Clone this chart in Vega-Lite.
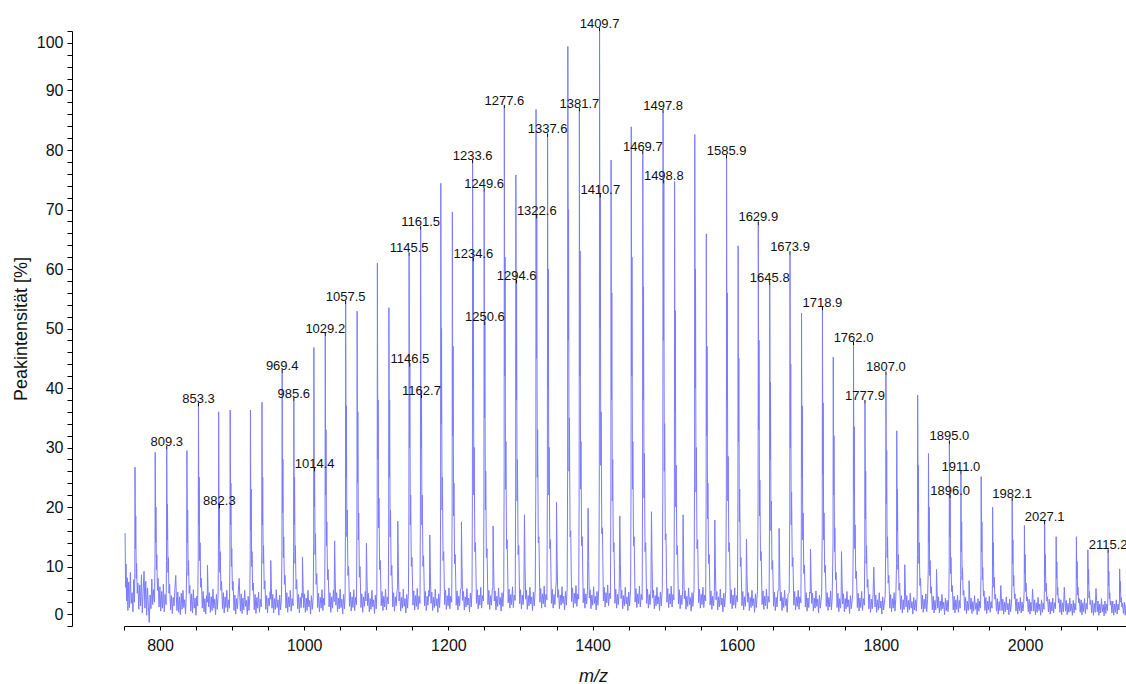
{
"$schema":"https://vega.github.io/schema/vega-lite/v6.json",
"autosize":{"type":"none"},
"padding":{"left":124,"top":31,"right":0,"bottom":58},
"width":1002,"height":595,
"background":"white",
"config":{"view":{"stroke":null},"axis":{"grid":false,"domainColor":"#000","tickColor":"#000","labelColor":"#111","titleColor":"#111","labelFont":"Liberation Sans","titleFont":"Liberation Sans"},"text":{"font":"Liberation Sans"}},
"datasets":{
"spec":[{"x":751.5,"y":15.6},{"x":752.2,"y":6.5},{"x":752.8,"y":10.4},{"x":753.6,"y":4.2},{"x":754.5,"y":8.1},{"x":755.4,"y":2.6},{"x":756.5,"y":7.4},{"x":757.6,"y":3.1},{"x":758.8,"y":9.0},{"x":760.0,"y":3.8},{"x":761.2,"y":5.6},{"x":762.4,"y":2.4},{"x":763.5,"y":7.8},{"x":764.5,"y":4.0},
{"x":765.0,"y":9.0},{"x":765.3,"y":26.7},{"x":765.9,"y":13.0},{"x":766.3,"y":18.5},{"x":767.0,"y":8.0},{"x":767.5,"y":10.5},{"x":768.4,"y":5.5},{"x":769.3,"y":7.2},
{"x":770.5,"y":2.8},{"x":771.8,"y":6.9},{"x":773.0,"y":3.4},{"x":774.2,"y":8.6},{"x":775.4,"y":2.2},{"x":776.6,"y":5.9},{"x":777.8,"y":9.2},{"x":779.0,"y":3.0},{"x":780.2,"y":7.5},{"x":781.4,"y":1.8},{"x":782.6,"y":6.4},{"x":783.8,"y":3.3},{"x":785.0,"y":0.6},{"x":786.2,"y":5.2},{"x":787.4,"y":2.9},{"x":788.6,"y":7.9},{"x":789.8,"y":3.6},{"x":791.0,"y":6.1},{"x":792.3,"y":4.0},
{"x":793.0,"y":10.5},{"x":793.3,"y":29.2},{"x":793.9,"y":14.0},{"x":794.3,"y":20.0},{"x":795.0,"y":9.5},{"x":795.5,"y":12.0},{"x":796.4,"y":6.0},{"x":797.3,"y":8.0},
{"x":798.6,"y":3.2},{"x":799.8,"y":6.6},{"x":801.0,"y":2.5},{"x":802.2,"y":5.8},{"x":803.4,"y":3.0},{"x":804.6,"y":7.0},{"x":805.8,"y":2.4},{"x":807.0,"y":5.3},{"x":808.4,"y":3.6},
{"x":809.0,"y":11.0},{"x":809.3,"y":29.7},{"x":809.9,"y":14.5},{"x":810.3,"y":20.5},{"x":811.0,"y":9.0},{"x":811.5,"y":11.5},{"x":812.4,"y":5.5},{"x":813.3,"y":7.0},
{"x":814.6,"y":2.7},{"x":815.8,"y":5.1},{"x":817.0,"y":2.1},{"x":818.2,"y":4.8},{"x":819.4,"y":3.4},{"x":820.6,"y":6.3},{"x":821.8,"y":8.5},{"x":822.6,"y":5.0},{"x":823.5,"y":2.6},{"x":824.6,"y":5.7},{"x":825.8,"y":2.3},{"x":827.0,"y":4.9},{"x":828.2,"y":1.9},{"x":829.4,"y":5.5},{"x":830.6,"y":2.8},{"x":831.8,"y":6.0},{"x":833.0,"y":3.1},{"x":834.2,"y":4.4},{"x":835.4,"y":2.0},{"x":836.4,"y":5.2},
{"x":837.0,"y":10.0},{"x":837.3,"y":29.5},{"x":837.9,"y":14.0},{"x":838.3,"y":19.5},{"x":839.0,"y":8.5},{"x":839.5,"y":11.0},{"x":840.4,"y":5.5},{"x":841.3,"y":6.8},
{"x":842.6,"y":2.5},{"x":843.8,"y":5.4},{"x":845.0,"y":2.2},{"x":846.2,"y":6.1},{"x":847.4,"y":3.0},{"x":848.6,"y":4.7},{"x":849.8,"y":1.8},{"x":851.0,"y":5.0},{"x":852.2,"y":3.4},
{"x":853.0,"y":12.0},{"x":853.3,"y":36.9},{"x":853.9,"y":17.0},{"x":854.3,"y":25.0},{"x":855.0,"y":11.0},{"x":855.5,"y":14.0},{"x":856.4,"y":6.5},{"x":857.3,"y":8.0},
{"x":858.6,"y":3.0},{"x":859.8,"y":5.8},{"x":861.0,"y":2.4},{"x":862.2,"y":4.6},{"x":863.4,"y":2.0},{"x":864.6,"y":5.1},{"x":865.5,"y":4.0},{"x":865.8,"y":10.2},{"x":866.6,"y":6.0},{"x":867.5,"y":3.2},{"x":868.6,"y":5.6},{"x":869.8,"y":2.3},{"x":871.0,"y":4.9},{"x":872.2,"y":2.6},{"x":873.4,"y":6.2},{"x":874.6,"y":3.0},{"x":875.8,"y":4.5},{"x":877.0,"y":1.9},{"x":878.2,"y":5.3},{"x":879.4,"y":2.8},{"x":880.4,"y":4.8},
{"x":881.0,"y":11.5},{"x":881.3,"y":36.0},{"x":881.9,"y":15.0},{"x":882.3,"y":19.8},{"x":883.0,"y":9.0},{"x":883.5,"y":12.5},{"x":884.4,"y":6.0},{"x":885.3,"y":7.5},
{"x":886.6,"y":2.9},{"x":887.8,"y":5.6},{"x":889.0,"y":2.2},{"x":890.2,"y":4.9},{"x":891.4,"y":3.1},{"x":892.6,"y":6.0},{"x":893.8,"y":2.4},{"x":895.0,"y":4.4},{"x":896.3,"y":3.0},
{"x":897.0,"y":12.0},{"x":897.3,"y":36.3},{"x":897.9,"y":17.0},{"x":898.3,"y":24.0},{"x":899.0,"y":10.0},{"x":899.5,"y":13.0},{"x":900.4,"y":6.0},{"x":901.3,"y":7.5},
{"x":902.6,"y":2.6},{"x":903.8,"y":5.2},{"x":905.0,"y":2.0},{"x":906.2,"y":4.6},{"x":907.4,"y":2.9},{"x":908.6,"y":5.9},{"x":909.8,"y":8.0},{"x":910.6,"y":5.0},{"x":911.5,"y":2.5},{"x":912.6,"y":5.4},{"x":913.8,"y":2.1},{"x":915.0,"y":4.7},{"x":916.2,"y":2.7},{"x":917.4,"y":6.0},{"x":918.6,"y":3.3},{"x":919.8,"y":4.3},{"x":921.0,"y":1.9},{"x":922.2,"y":5.0},{"x":923.4,"y":2.6},{"x":924.5,"y":4.9},
{"x":925.1,"y":12.0},{"x":925.4,"y":36.3},{"x":926.0,"y":16.0},{"x":926.4,"y":23.0},{"x":927.1,"y":10.0},{"x":927.6,"y":12.5},{"x":928.5,"y":6.0},{"x":929.4,"y":7.2},
{"x":930.7,"y":2.7},{"x":931.9,"y":5.3},{"x":933.1,"y":2.1},{"x":934.3,"y":4.8},{"x":935.5,"y":3.0},{"x":936.7,"y":5.7},{"x":937.9,"y":2.3},{"x":939.1,"y":4.5},{"x":940.4,"y":3.2},
{"x":941.1,"y":12.5},{"x":941.4,"y":37.6},{"x":942.0,"y":17.0},{"x":942.4,"y":25.0},{"x":943.1,"y":10.5},{"x":943.6,"y":13.5},{"x":944.5,"y":6.2},{"x":945.4,"y":7.6},
{"x":946.7,"y":2.8},{"x":947.9,"y":5.1},{"x":949.1,"y":2.2},{"x":950.3,"y":4.7},{"x":951.5,"y":3.4},{"x":952.7,"y":5.8},{"x":953.3,"y":4.5},{"x":953.6,"y":11.0},{"x":954.4,"y":6.5},{"x":955.3,"y":3.0},{"x":956.4,"y":5.3},{"x":957.6,"y":2.2},{"x":958.8,"y":4.6},{"x":960.0,"y":2.8},{"x":961.2,"y":6.1},{"x":962.4,"y":3.1},{"x":963.6,"y":4.4},{"x":964.8,"y":1.8},{"x":966.0,"y":5.2},{"x":967.2,"y":2.7},{"x":968.5,"y":4.8},
{"x":969.1,"y":13.0},{"x":969.4,"y":42.5},{"x":970.0,"y":19.0},{"x":970.4,"y":28.0},{"x":971.1,"y":11.5},{"x":971.6,"y":15.0},{"x":972.5,"y":7.0},{"x":973.4,"y":8.5},
{"x":974.7,"y":3.0},{"x":975.9,"y":5.6},{"x":977.1,"y":2.3},{"x":978.3,"y":4.9},{"x":979.5,"y":3.2},{"x":980.7,"y":6.0},{"x":981.9,"y":2.5},{"x":983.1,"y":4.6},{"x":984.5,"y":3.4},
{"x":985.3,"y":12.5},{"x":985.6,"y":37.8},{"x":986.2,"y":17.0},{"x":986.6,"y":25.0},{"x":987.3,"y":10.5},{"x":987.8,"y":13.5},{"x":988.7,"y":6.2},{"x":989.6,"y":7.8},
{"x":990.9,"y":2.9},{"x":992.1,"y":5.3},{"x":993.3,"y":2.2},{"x":994.5,"y":4.8},{"x":995.7,"y":3.1},{"x":996.8,"y":5.5},{"x":997.3,"y":4.8},{"x":997.6,"y":11.6},{"x":998.4,"y":7.0},{"x":999.3,"y":3.1},{"x":1000.4,"y":5.4},{"x":1001.6,"y":2.3},{"x":1002.8,"y":4.7},{"x":1004.0,"y":2.6},{"x":1005.2,"y":6.0},{"x":1006.4,"y":3.2},{"x":1007.6,"y":4.3},{"x":1008.8,"y":2.0},{"x":1010.0,"y":5.1},{"x":1011.2,"y":2.8},{"x":1012.5,"y":5.0},
{"x":1013.1,"y":14.0},{"x":1013.4,"y":46.8},{"x":1014.0,"y":20.0},{"x":1014.4,"y":26.0},{"x":1015.1,"y":12.0},{"x":1015.6,"y":15.5},{"x":1016.5,"y":7.0},{"x":1017.4,"y":8.8},
{"x":1018.7,"y":3.1},{"x":1019.9,"y":5.5},{"x":1021.1,"y":2.4},{"x":1022.3,"y":4.8},{"x":1023.5,"y":3.0},{"x":1024.7,"y":6.1},{"x":1025.9,"y":2.6},{"x":1027.1,"y":4.7},{"x":1028.3,"y":3.5},
{"x":1028.9,"y":15.0},{"x":1029.2,"y":48.7},{"x":1029.8,"y":22.0},{"x":1030.2,"y":33.0},{"x":1030.9,"y":13.5},{"x":1031.4,"y":17.5},{"x":1032.3,"y":7.8},{"x":1033.2,"y":9.5},
{"x":1034.5,"y":3.2},{"x":1035.7,"y":5.6},{"x":1036.9,"y":2.3},{"x":1038.1,"y":4.9},{"x":1039.3,"y":3.0},{"x":1040.5,"y":6.0},{"x":1041.5,"y":4.1},{"x":1042.2,"y":14.3},{"x":1043.0,"y":8.0},{"x":1043.9,"y":3.5},{"x":1045.0,"y":5.6},{"x":1046.2,"y":2.4},{"x":1047.4,"y":4.7},{"x":1048.6,"y":2.9},{"x":1049.8,"y":6.2},{"x":1051.0,"y":3.1},{"x":1052.2,"y":4.5},{"x":1053.4,"y":2.0},{"x":1054.6,"y":5.3},{"x":1055.8,"y":2.9},{"x":1056.7,"y":5.2},
{"x":1057.2,"y":16.0},{"x":1057.5,"y":54.1},{"x":1058.1,"y":25.0},{"x":1058.5,"y":37.0},{"x":1059.2,"y":15.0},{"x":1059.7,"y":19.5},{"x":1060.6,"y":8.5},{"x":1061.5,"y":10.0},
{"x":1062.8,"y":3.3},{"x":1064.0,"y":5.7},{"x":1065.2,"y":2.5},{"x":1066.4,"y":4.9},{"x":1067.6,"y":3.1},{"x":1068.8,"y":6.1},{"x":1070.0,"y":2.6},{"x":1071.2,"y":4.8},{"x":1072.5,"y":3.6},
{"x":1073.1,"y":16.0},{"x":1073.4,"y":52.9},{"x":1074.0,"y":24.0},{"x":1074.4,"y":36.0},{"x":1075.1,"y":14.5},{"x":1075.6,"y":19.0},{"x":1076.5,"y":8.2},{"x":1077.4,"y":10.0},
{"x":1078.7,"y":3.1},{"x":1079.9,"y":5.4},{"x":1081.1,"y":2.3},{"x":1082.3,"y":4.9},{"x":1083.5,"y":3.3},{"x":1084.7,"y":5.8},{"x":1085.7,"y":4.2},{"x":1086.3,"y":13.9},{"x":1087.1,"y":8.0},{"x":1088.0,"y":3.4},{"x":1089.1,"y":5.5},{"x":1090.3,"y":2.4},{"x":1091.5,"y":4.6},{"x":1092.7,"y":2.8},{"x":1093.9,"y":6.0},{"x":1095.1,"y":3.2},{"x":1096.3,"y":4.4},{"x":1097.5,"y":2.1},{"x":1098.7,"y":5.2},{"x":1099.9,"y":2.9},{"x":1100.7,"y":5.4},
{"x":1101.2,"y":18.0},{"x":1101.5,"y":61.0},{"x":1102.1,"y":28.0},{"x":1102.5,"y":38.0},{"x":1103.2,"y":16.5},{"x":1103.7,"y":21.5},{"x":1104.6,"y":9.5},{"x":1105.5,"y":11.0},
{"x":1106.8,"y":3.4},{"x":1108.0,"y":5.8},{"x":1109.2,"y":2.6},{"x":1110.4,"y":5.0},{"x":1111.6,"y":3.2},{"x":1112.8,"y":6.2},{"x":1114.0,"y":2.7},{"x":1115.2,"y":4.9},{"x":1116.6,"y":3.7},
{"x":1117.2,"y":16.5},{"x":1117.5,"y":53.5},{"x":1118.1,"y":25.0},{"x":1118.5,"y":38.0},{"x":1119.2,"y":15.0},{"x":1119.7,"y":19.5},{"x":1120.6,"y":8.5},{"x":1121.5,"y":10.2},
{"x":1122.8,"y":3.2},{"x":1124.0,"y":5.6},{"x":1125.2,"y":2.5},{"x":1126.4,"y":4.9},{"x":1127.6,"y":3.4},{"x":1128.8,"y":6.0},{"x":1129.5,"y":6.5},{"x":1129.8,"y":17.6},{"x":1130.6,"y":10.0},{"x":1131.5,"y":4.2},{"x":1132.6,"y":5.7},{"x":1133.8,"y":2.5},{"x":1135.0,"y":4.8},{"x":1136.2,"y":3.0},{"x":1137.4,"y":6.2},{"x":1138.6,"y":3.3},{"x":1139.8,"y":4.6},{"x":1141.0,"y":2.2},{"x":1142.2,"y":5.3},{"x":1143.4,"y":3.0},{"x":1144.6,"y":5.6},
{"x":1145.2,"y":18.5},{"x":1145.5,"y":62.2},{"x":1146.1,"y":30.0},{"x":1146.5,"y":43.6},{"x":1147.2,"y":17.0},{"x":1147.7,"y":22.0},{"x":1148.6,"y":10.0},{"x":1149.5,"y":11.5},
{"x":1150.8,"y":3.5},{"x":1152.0,"y":5.9},{"x":1153.2,"y":2.7},{"x":1154.4,"y":5.1},{"x":1155.6,"y":3.3},{"x":1156.8,"y":6.3},{"x":1158.0,"y":2.8},{"x":1159.2,"y":5.0},{"x":1160.6,"y":3.8},
{"x":1161.2,"y":19.5},{"x":1161.5,"y":66.6},{"x":1162.1,"y":30.0},{"x":1162.7,"y":38.3},{"x":1163.3,"y":17.0},{"x":1163.8,"y":22.0},{"x":1164.7,"y":10.0},{"x":1165.6,"y":11.8},
{"x":1166.9,"y":3.4},{"x":1168.1,"y":5.8},{"x":1169.3,"y":2.6},{"x":1170.5,"y":5.0},{"x":1171.7,"y":3.5},{"x":1172.9,"y":6.0},{"x":1173.8,"y":5.0},{"x":1174.2,"y":15.3},{"x":1175.0,"y":9.0},{"x":1175.9,"y":3.8},{"x":1177.0,"y":5.7},{"x":1178.2,"y":2.6},{"x":1179.4,"y":4.8},{"x":1180.6,"y":3.1},{"x":1181.8,"y":6.2},{"x":1183.0,"y":3.4},{"x":1184.2,"y":4.6},{"x":1185.4,"y":2.3},{"x":1186.6,"y":5.4},{"x":1187.8,"y":3.1},{"x":1188.7,"y":5.8},
{"x":1189.2,"y":21.0},{"x":1189.5,"y":74.4},{"x":1190.1,"y":34.0},{"x":1190.5,"y":50.0},{"x":1191.2,"y":19.5},{"x":1191.7,"y":25.0},{"x":1192.6,"y":11.0},{"x":1193.5,"y":12.5},
{"x":1194.8,"y":3.6},{"x":1196.0,"y":6.0},{"x":1197.2,"y":2.8},{"x":1198.4,"y":5.1},{"x":1199.6,"y":3.4},{"x":1200.8,"y":6.4},{"x":1202.0,"y":2.9},{"x":1203.2,"y":5.0},{"x":1204.6,"y":4.0},
{"x":1205.2,"y":20.0},{"x":1205.5,"y":69.6},{"x":1206.1,"y":32.0},{"x":1206.5,"y":47.0},{"x":1207.2,"y":18.5},{"x":1207.7,"y":24.0},{"x":1208.6,"y":10.5},{"x":1209.5,"y":12.0},
{"x":1210.8,"y":3.5},{"x":1212.0,"y":5.9},{"x":1213.2,"y":2.7},{"x":1214.4,"y":5.0},{"x":1215.6,"y":3.4},{"x":1216.8,"y":6.1},{"x":1217.8,"y":6.5},{"x":1218.1,"y":17.5},{"x":1218.9,"y":10.0},{"x":1219.8,"y":4.3},{"x":1220.9,"y":5.8},{"x":1222.1,"y":2.7},{"x":1223.3,"y":4.9},{"x":1224.5,"y":3.2},{"x":1225.7,"y":6.3},{"x":1226.9,"y":3.5},{"x":1228.1,"y":4.7},{"x":1229.3,"y":2.4},{"x":1230.5,"y":5.5},{"x":1231.7,"y":3.2},{"x":1232.8,"y":6.0},
{"x":1233.3,"y":22.0},{"x":1233.6,"y":77.8},{"x":1234.2,"y":40.0},{"x":1234.6,"y":61.3},{"x":1235.3,"y":22.0},{"x":1235.8,"y":30.0},{"x":1236.7,"y":12.5},{"x":1237.6,"y":14.0},
{"x":1238.9,"y":3.8},{"x":1240.1,"y":6.1},{"x":1241.3,"y":2.9},{"x":1242.5,"y":5.2},{"x":1243.7,"y":3.5},{"x":1244.9,"y":6.5},{"x":1246.1,"y":3.0},{"x":1247.3,"y":5.1},{"x":1248.7,"y":4.2},
{"x":1249.3,"y":21.0},{"x":1249.6,"y":73.0},{"x":1250.2,"y":35.0},{"x":1250.6,"y":50.6},{"x":1251.3,"y":19.5},{"x":1251.8,"y":26.0},{"x":1252.7,"y":11.5},{"x":1253.6,"y":13.0},
{"x":1254.9,"y":3.6},{"x":1256.1,"y":6.0},{"x":1257.3,"y":2.8},{"x":1258.5,"y":5.1},{"x":1259.7,"y":3.5},{"x":1260.9,"y":6.2},{"x":1261.7,"y":6.5},{"x":1262.0,"y":16.8},{"x":1262.8,"y":9.5},{"x":1263.7,"y":4.2},{"x":1264.8,"y":5.9},{"x":1266.0,"y":2.7},{"x":1267.2,"y":5.0},{"x":1268.4,"y":3.3},{"x":1269.6,"y":6.4},{"x":1270.8,"y":3.6},{"x":1272.0,"y":4.8},{"x":1273.2,"y":2.5},{"x":1274.4,"y":5.6},{"x":1275.6,"y":3.3},{"x":1276.8,"y":6.1},
{"x":1277.3,"y":24.0},{"x":1277.6,"y":87.0},{"x":1278.2,"y":42.0},{"x":1278.6,"y":62.0},{"x":1279.3,"y":23.0},{"x":1279.8,"y":31.0},{"x":1280.7,"y":13.0},{"x":1281.6,"y":14.5},
{"x":1282.9,"y":3.9},{"x":1284.1,"y":6.2},{"x":1285.3,"y":3.0},{"x":1286.5,"y":5.3},{"x":1287.7,"y":3.6},{"x":1288.9,"y":6.6},{"x":1290.1,"y":3.1},{"x":1291.3,"y":5.2},{"x":1292.7,"y":4.3},
{"x":1293.3,"y":22.0},{"x":1293.6,"y":75.8},{"x":1294.2,"y":38.0},{"x":1294.6,"y":57.6},{"x":1295.3,"y":21.0},{"x":1295.8,"y":28.0},{"x":1296.7,"y":12.0},{"x":1297.6,"y":13.5},
{"x":1298.9,"y":3.7},{"x":1300.1,"y":6.1},{"x":1301.3,"y":2.9},{"x":1302.5,"y":5.2},{"x":1303.7,"y":3.6},{"x":1304.8,"y":6.0},{"x":1305.5,"y":18.7},{"x":1306.3,"y":10.5},{"x":1307.2,"y":4.5},{"x":1308.3,"y":6.0},{"x":1309.5,"y":2.8},{"x":1310.7,"y":5.1},{"x":1311.9,"y":3.4},{"x":1313.1,"y":6.5},{"x":1314.3,"y":3.7},{"x":1315.5,"y":4.9},{"x":1316.7,"y":2.6},{"x":1317.9,"y":5.7},{"x":1319.1,"y":3.4},{"x":1320.5,"y":6.2},
{"x":1321.3,"y":24.0},{"x":1321.6,"y":86.8},{"x":1322.2,"y":45.0},{"x":1322.6,"y":68.5},{"x":1323.3,"y":25.0},{"x":1323.8,"y":33.0},{"x":1324.7,"y":14.0},{"x":1325.6,"y":15.0},
{"x":1326.9,"y":4.0},{"x":1328.1,"y":6.3},{"x":1329.3,"y":3.0},{"x":1330.5,"y":5.4},{"x":1331.7,"y":3.7},{"x":1332.9,"y":6.7},{"x":1334.1,"y":3.2},{"x":1335.3,"y":5.3},{"x":1336.7,"y":4.4},
{"x":1337.3,"y":23.0},{"x":1337.6,"y":82.2},{"x":1338.2,"y":40.0},{"x":1338.6,"y":60.0},{"x":1339.3,"y":22.0},{"x":1339.8,"y":30.0},{"x":1340.7,"y":13.0},{"x":1341.6,"y":14.5},
{"x":1342.9,"y":3.8},{"x":1344.1,"y":6.2},{"x":1345.3,"y":3.0},{"x":1346.5,"y":5.3},{"x":1347.7,"y":3.6},{"x":1348.9,"y":6.4},{"x":1349.7,"y":7.5},{"x":1350.0,"y":20.8},{"x":1350.8,"y":11.5},{"x":1351.7,"y":4.8},{"x":1352.8,"y":6.1},{"x":1354.0,"y":2.9},{"x":1355.2,"y":5.2},{"x":1356.4,"y":3.5},{"x":1357.6,"y":6.6},{"x":1358.8,"y":3.8},{"x":1360.0,"y":5.0},{"x":1361.2,"y":2.7},{"x":1362.4,"y":5.8},{"x":1363.6,"y":3.5},{"x":1364.8,"y":6.3},
{"x":1365.4,"y":26.0},{"x":1365.7,"y":97.4},{"x":1366.3,"y":48.0},{"x":1366.7,"y":70.0},{"x":1367.4,"y":26.0},{"x":1367.9,"y":35.0},{"x":1368.8,"y":15.0},{"x":1369.7,"y":16.0},
{"x":1371.0,"y":4.1},{"x":1372.2,"y":6.4},{"x":1373.4,"y":3.1},{"x":1374.6,"y":5.5},{"x":1375.8,"y":3.8},{"x":1377.0,"y":6.8},{"x":1378.2,"y":3.3},{"x":1379.4,"y":5.4},{"x":1380.8,"y":4.5},
{"x":1381.4,"y":24.0},{"x":1381.7,"y":86.5},{"x":1382.3,"y":42.0},{"x":1382.7,"y":63.0},{"x":1383.4,"y":23.0},{"x":1383.9,"y":31.0},{"x":1384.8,"y":13.5},{"x":1385.7,"y":15.0},
{"x":1387.0,"y":3.9},{"x":1388.2,"y":6.3},{"x":1389.4,"y":3.0},{"x":1390.6,"y":5.4},{"x":1391.8,"y":3.7},{"x":1393.0,"y":6.0},{"x":1393.8,"y":19.8},{"x":1394.6,"y":11.0},{"x":1395.5,"y":4.7},{"x":1396.6,"y":6.1},{"x":1397.8,"y":2.9},{"x":1399.0,"y":5.2},{"x":1400.2,"y":3.5},{"x":1401.4,"y":6.6},{"x":1402.6,"y":3.8},{"x":1403.8,"y":5.0},{"x":1405.0,"y":2.7},{"x":1406.2,"y":5.8},{"x":1407.4,"y":3.5},{"x":1408.8,"y":6.4},
{"x":1409.4,"y":27.0},{"x":1409.7,"y":100.0},{"x":1410.3,"y":50.0},{"x":1410.7,"y":72.0},{"x":1411.4,"y":27.0},{"x":1411.9,"y":36.0},{"x":1412.8,"y":15.5},{"x":1413.7,"y":16.5},
{"x":1415.0,"y":4.2},{"x":1416.2,"y":6.5},{"x":1417.4,"y":3.2},{"x":1418.6,"y":5.6},{"x":1419.8,"y":3.9},{"x":1421.0,"y":6.9},{"x":1422.2,"y":3.4},{"x":1423.4,"y":5.5},{"x":1424.8,"y":4.6},
{"x":1425.4,"y":23.0},{"x":1425.7,"y":78.3},{"x":1426.3,"y":38.0},{"x":1426.7,"y":56.0},{"x":1427.4,"y":21.0},{"x":1427.9,"y":28.0},{"x":1428.8,"y":12.5},{"x":1429.7,"y":14.0},
{"x":1431.0,"y":3.8},{"x":1432.2,"y":6.2},{"x":1433.4,"y":3.0},{"x":1434.6,"y":5.3},{"x":1435.8,"y":3.6},{"x":1437.0,"y":6.3},{"x":1437.8,"y":18.5},{"x":1438.6,"y":10.5},{"x":1439.5,"y":4.6},{"x":1440.6,"y":6.0},{"x":1441.8,"y":2.9},{"x":1443.0,"y":5.1},{"x":1444.2,"y":3.4},{"x":1445.4,"y":6.5},{"x":1446.6,"y":3.7},{"x":1447.8,"y":4.9},{"x":1449.0,"y":2.6},{"x":1450.2,"y":5.7},{"x":1451.4,"y":3.4},{"x":1452.8,"y":6.3},
{"x":1453.4,"y":24.0},{"x":1453.7,"y":83.9},{"x":1454.3,"y":42.0},{"x":1454.7,"y":62.0},{"x":1455.4,"y":23.0},{"x":1455.9,"y":31.0},{"x":1456.8,"y":13.5},{"x":1457.7,"y":15.0},
{"x":1459.0,"y":4.0},{"x":1460.2,"y":6.3},{"x":1461.4,"y":3.1},{"x":1462.6,"y":5.4},{"x":1463.8,"y":3.7},{"x":1465.0,"y":6.7},{"x":1466.2,"y":3.2},{"x":1467.4,"y":5.3},{"x":1468.8,"y":4.4},
{"x":1469.4,"y":23.0},{"x":1469.7,"y":79.3},{"x":1470.3,"y":38.0},{"x":1470.7,"y":57.0},{"x":1471.4,"y":21.5},{"x":1471.9,"y":29.0},{"x":1472.8,"y":12.5},{"x":1473.7,"y":14.0},
{"x":1475.0,"y":3.8},{"x":1476.2,"y":6.2},{"x":1477.4,"y":3.0},{"x":1478.6,"y":5.3},{"x":1479.8,"y":3.6},{"x":1481.0,"y":6.2},{"x":1481.7,"y":19.2},{"x":1482.5,"y":11.0},{"x":1483.4,"y":4.7},{"x":1484.5,"y":6.0},{"x":1485.7,"y":2.9},{"x":1486.9,"y":5.1},{"x":1488.1,"y":3.4},{"x":1489.3,"y":6.5},{"x":1490.5,"y":3.7},{"x":1491.7,"y":4.9},{"x":1492.9,"y":2.6},{"x":1494.1,"y":5.7},{"x":1495.3,"y":3.4},{"x":1496.8,"y":6.3},
{"x":1497.5,"y":25.0},{"x":1497.8,"y":86.2},{"x":1498.4,"y":48.0},{"x":1498.8,"y":74.4},{"x":1499.5,"y":26.0},{"x":1500.0,"y":34.0},{"x":1500.9,"y":14.5},{"x":1501.8,"y":15.5},
{"x":1503.1,"y":4.0},{"x":1504.3,"y":6.3},{"x":1505.5,"y":3.1},{"x":1506.7,"y":5.4},{"x":1507.9,"y":3.7},{"x":1509.1,"y":6.7},{"x":1510.3,"y":3.2},{"x":1511.5,"y":5.3},{"x":1512.9,"y":4.4},
{"x":1513.5,"y":22.0},{"x":1513.8,"y":74.7},{"x":1514.4,"y":36.0},{"x":1514.8,"y":53.0},{"x":1515.5,"y":20.0},{"x":1516.0,"y":27.0},{"x":1516.9,"y":12.0},{"x":1517.8,"y":13.5},
{"x":1519.1,"y":3.7},{"x":1520.3,"y":6.1},{"x":1521.5,"y":2.9},{"x":1522.7,"y":5.2},{"x":1523.9,"y":3.6},{"x":1525.0,"y":6.0},{"x":1525.6,"y":18.7},{"x":1526.4,"y":10.5},{"x":1527.3,"y":4.6},{"x":1528.4,"y":5.9},{"x":1529.6,"y":2.8},{"x":1530.8,"y":5.0},{"x":1532.0,"y":3.3},{"x":1533.2,"y":6.4},{"x":1534.4,"y":3.6},{"x":1535.6,"y":4.8},{"x":1536.8,"y":2.5},{"x":1538.0,"y":5.6},{"x":1539.2,"y":3.3},{"x":1540.8,"y":6.2},
{"x":1541.5,"y":24.0},{"x":1541.8,"y":82.6},{"x":1542.4,"y":40.0},{"x":1542.8,"y":60.0},{"x":1543.5,"y":22.5},{"x":1544.0,"y":30.0},{"x":1544.9,"y":13.0},{"x":1545.8,"y":14.5},
{"x":1547.1,"y":3.9},{"x":1548.3,"y":6.2},{"x":1549.5,"y":3.0},{"x":1550.7,"y":5.3},{"x":1551.9,"y":3.6},{"x":1553.1,"y":6.5},{"x":1554.3,"y":3.1},{"x":1555.5,"y":5.2},{"x":1556.9,"y":4.2},
{"x":1557.5,"y":19.5},{"x":1557.8,"y":65.9},{"x":1558.4,"y":32.0},{"x":1558.8,"y":47.0},{"x":1559.5,"y":18.0},{"x":1560.0,"y":24.0},{"x":1560.9,"y":10.5},{"x":1561.8,"y":12.0},
{"x":1563.1,"y":3.5},{"x":1564.3,"y":5.9},{"x":1565.5,"y":2.8},{"x":1566.7,"y":5.0},{"x":1567.9,"y":3.4},{"x":1569.0,"y":5.8},{"x":1569.6,"y":17.8},{"x":1570.4,"y":10.0},{"x":1571.3,"y":4.4},{"x":1572.4,"y":5.8},{"x":1573.6,"y":2.7},{"x":1574.8,"y":4.9},{"x":1576.0,"y":3.2},{"x":1577.2,"y":6.2},{"x":1578.4,"y":3.5},{"x":1579.6,"y":4.7},{"x":1580.8,"y":2.4},{"x":1582.0,"y":5.5},{"x":1583.2,"y":3.2},{"x":1584.8,"y":6.0},
{"x":1585.6,"y":23.0},{"x":1585.9,"y":78.6},{"x":1586.5,"y":38.0},{"x":1586.9,"y":56.0},{"x":1587.6,"y":21.0},{"x":1588.1,"y":28.5},{"x":1589.0,"y":12.5},{"x":1589.9,"y":14.0},
{"x":1591.2,"y":3.8},{"x":1592.4,"y":6.1},{"x":1593.6,"y":2.9},{"x":1594.8,"y":5.2},{"x":1596.0,"y":3.5},{"x":1597.2,"y":6.4},{"x":1598.4,"y":3.0},{"x":1599.6,"y":5.1},{"x":1601.0,"y":4.1},
{"x":1601.6,"y":19.0},{"x":1601.9,"y":63.9},{"x":1602.5,"y":31.0},{"x":1602.9,"y":45.0},{"x":1603.6,"y":17.5},{"x":1604.1,"y":23.0},{"x":1605.0,"y":10.0},{"x":1605.9,"y":11.5},
{"x":1607.2,"y":3.4},{"x":1608.4,"y":5.8},{"x":1609.6,"y":2.7},{"x":1610.8,"y":4.9},{"x":1612.0,"y":3.3},{"x":1612.9,"y":5.5},{"x":1613.5,"y":14.6},{"x":1614.3,"y":8.5},{"x":1615.2,"y":4.0},{"x":1616.3,"y":5.6},{"x":1617.5,"y":2.6},{"x":1618.7,"y":4.8},{"x":1619.9,"y":3.1},{"x":1621.1,"y":6.0},{"x":1622.3,"y":3.4},{"x":1623.5,"y":4.6},{"x":1624.7,"y":2.3},{"x":1625.9,"y":5.4},{"x":1627.1,"y":3.1},{"x":1628.8,"y":5.8},
{"x":1629.6,"y":20.0},{"x":1629.9,"y":67.4},{"x":1630.5,"y":33.0},{"x":1630.9,"y":48.0},{"x":1631.6,"y":18.5},{"x":1632.1,"y":24.5},{"x":1633.0,"y":11.0},{"x":1633.9,"y":12.5},
{"x":1635.2,"y":3.6},{"x":1636.4,"y":5.9},{"x":1637.6,"y":2.8},{"x":1638.8,"y":5.0},{"x":1640.0,"y":3.4},{"x":1641.2,"y":6.2},{"x":1642.4,"y":2.9},{"x":1643.6,"y":5.0},{"x":1644.9,"y":4.0},
{"x":1645.5,"y":17.5},{"x":1645.8,"y":57.3},{"x":1646.4,"y":28.0},{"x":1646.8,"y":41.0},{"x":1647.5,"y":16.0},{"x":1648.0,"y":21.0},{"x":1648.9,"y":9.5},{"x":1649.8,"y":11.0},
{"x":1651.1,"y":3.3},{"x":1652.3,"y":5.7},{"x":1653.5,"y":2.6},{"x":1654.7,"y":4.8},{"x":1655.9,"y":3.2},{"x":1657.1,"y":5.9},{"x":1658.5,"y":6.0},{"x":1658.8,"y":16.4},{"x":1659.6,"y":9.5},{"x":1660.5,"y":4.2},{"x":1661.6,"y":5.7},{"x":1662.8,"y":2.6},{"x":1664.0,"y":4.8},{"x":1665.2,"y":3.1},{"x":1666.4,"y":6.0},{"x":1667.6,"y":3.4},{"x":1668.8,"y":4.6},{"x":1670.0,"y":2.3},{"x":1671.2,"y":5.3},{"x":1672.8,"y":5.6},
{"x":1673.6,"y":18.5},{"x":1673.9,"y":62.4},{"x":1674.5,"y":30.0},{"x":1674.9,"y":44.0},{"x":1675.6,"y":17.0},{"x":1676.1,"y":22.5},{"x":1677.0,"y":10.0},{"x":1677.9,"y":11.5},
{"x":1679.2,"y":3.5},{"x":1680.4,"y":5.8},{"x":1681.6,"y":2.7},{"x":1682.8,"y":4.9},{"x":1684.0,"y":3.3},{"x":1685.2,"y":6.0},{"x":1686.4,"y":2.8},{"x":1687.6,"y":4.9},{"x":1689.0,"y":3.9},
{"x":1689.6,"y":16.0},{"x":1689.9,"y":52.6},{"x":1690.5,"y":25.0},{"x":1690.9,"y":37.0},{"x":1691.6,"y":14.5},{"x":1692.1,"y":19.0},{"x":1693.0,"y":8.8},{"x":1693.9,"y":10.2},
{"x":1695.2,"y":3.2},{"x":1696.4,"y":5.6},{"x":1697.6,"y":2.5},{"x":1698.8,"y":4.7},{"x":1700.0,"y":3.1},{"x":1701.2,"y":5.7},{"x":1702.0,"y":5.5},{"x":1702.3,"y":12.9},{"x":1703.1,"y":7.8},{"x":1704.0,"y":3.8},{"x":1705.1,"y":5.5},{"x":1706.3,"y":2.5},{"x":1707.5,"y":4.7},{"x":1708.7,"y":3.0},{"x":1709.9,"y":5.9},{"x":1711.1,"y":3.3},{"x":1712.3,"y":4.5},{"x":1713.5,"y":2.2},{"x":1714.7,"y":5.2},{"x":1715.9,"y":3.0},{"x":1717.8,"y":5.4},
{"x":1718.6,"y":16.0},{"x":1718.9,"y":53.1},{"x":1719.5,"y":25.5},{"x":1719.9,"y":37.5},{"x":1720.6,"y":14.5},{"x":1721.1,"y":19.0},{"x":1722.0,"y":9.0},{"x":1722.9,"y":10.2},
{"x":1724.2,"y":3.3},{"x":1725.4,"y":5.6},{"x":1726.6,"y":2.6},{"x":1727.8,"y":4.8},{"x":1729.0,"y":3.2},{"x":1730.2,"y":5.9},{"x":1731.4,"y":2.7},{"x":1732.4,"y":4.7},
{"x":1733.6,"y":14.0},{"x":1733.9,"y":45.2},{"x":1734.5,"y":22.0},{"x":1734.9,"y":32.0},{"x":1735.6,"y":12.5},{"x":1736.1,"y":16.5},{"x":1737.0,"y":7.8},{"x":1737.9,"y":9.0},
{"x":1739.2,"y":3.1},{"x":1740.4,"y":5.5},{"x":1741.6,"y":2.4},{"x":1742.8,"y":4.6},{"x":1744.0,"y":3.0},{"x":1744.9,"y":5.2},{"x":1745.3,"y":12.5},{"x":1746.1,"y":7.5},{"x":1747.0,"y":3.7},{"x":1748.1,"y":5.4},{"x":1749.3,"y":2.4},{"x":1750.5,"y":4.6},{"x":1751.7,"y":2.9},{"x":1752.9,"y":5.8},{"x":1754.1,"y":3.2},{"x":1755.3,"y":4.4},{"x":1756.5,"y":2.1},{"x":1757.7,"y":5.1},{"x":1758.9,"y":2.9},{"x":1760.9,"y":5.3},
{"x":1761.7,"y":14.5},{"x":1762.0,"y":47.2},{"x":1762.6,"y":23.0},{"x":1763.0,"y":33.5},{"x":1763.7,"y":13.0},{"x":1764.2,"y":17.0},{"x":1765.1,"y":8.0},{"x":1766.0,"y":9.2},
{"x":1767.3,"y":3.1},{"x":1768.5,"y":5.5},{"x":1769.7,"y":2.5},{"x":1770.9,"y":4.7},{"x":1772.1,"y":3.1},{"x":1773.3,"y":5.8},{"x":1774.5,"y":2.6},{"x":1775.7,"y":4.6},{"x":1777.0,"y":3.5},
{"x":1777.6,"y":12.0},{"x":1777.9,"y":37.4},{"x":1778.5,"y":18.0},{"x":1778.9,"y":26.0},{"x":1779.6,"y":10.5},{"x":1780.1,"y":13.5},{"x":1781.0,"y":6.5},{"x":1781.9,"y":7.8},
{"x":1783.2,"y":2.9},{"x":1784.4,"y":5.3},{"x":1785.6,"y":2.3},{"x":1786.8,"y":4.5},{"x":1788.0,"y":2.9},{"x":1789.2,"y":5.4},{"x":1790.1,"y":9.9},{"x":1790.9,"y":6.2},{"x":1791.8,"y":3.2},{"x":1792.9,"y":5.2},{"x":1794.1,"y":2.3},{"x":1795.3,"y":4.4},{"x":1796.5,"y":2.7},{"x":1797.7,"y":5.6},{"x":1798.9,"y":3.0},{"x":1800.1,"y":4.2},{"x":1801.3,"y":2.0},{"x":1802.5,"y":4.9},{"x":1803.7,"y":2.7},{"x":1805.9,"y":5.0},
{"x":1806.7,"y":13.0},{"x":1807.0,"y":42.2},{"x":1807.6,"y":20.5},{"x":1808.0,"y":29.5},{"x":1808.7,"y":11.5},{"x":1809.2,"y":15.0},{"x":1810.1,"y":7.2},{"x":1811.0,"y":8.5},
{"x":1812.3,"y":3.0},{"x":1813.5,"y":5.3},{"x":1814.7,"y":2.4},{"x":1815.9,"y":4.6},{"x":1817.1,"y":3.0},{"x":1818.3,"y":5.6},{"x":1819.5,"y":2.5},{"x":1820.6,"y":4.5},
{"x":1821.7,"y":10.5},{"x":1822.0,"y":32.8},{"x":1822.6,"y":16.0},{"x":1823.0,"y":23.0},{"x":1823.7,"y":9.5},{"x":1824.2,"y":12.0},{"x":1825.1,"y":6.0},{"x":1826.0,"y":7.2},
{"x":1827.3,"y":2.8},{"x":1828.5,"y":5.1},{"x":1829.7,"y":2.2},{"x":1830.9,"y":4.4},{"x":1832.1,"y":2.8},{"x":1832.7,"y":5.0},{"x":1833.1,"y":10.3},{"x":1833.9,"y":6.3},{"x":1834.8,"y":3.2},{"x":1835.9,"y":5.1},{"x":1837.1,"y":2.3},{"x":1838.3,"y":4.3},{"x":1839.5,"y":2.7},{"x":1840.7,"y":5.5},{"x":1841.9,"y":3.0},{"x":1843.1,"y":4.1},{"x":1844.3,"y":2.0},{"x":1845.5,"y":4.8},{"x":1846.7,"y":2.7},{"x":1847.9,"y":4.4},{"x":1849.1,"y":2.5},{"x":1850.2,"y":4.9},
{"x":1850.7,"y":12.0},{"x":1851.0,"y":38.8},{"x":1851.6,"y":19.0},{"x":1852.0,"y":27.0},{"x":1852.7,"y":10.5},{"x":1853.2,"y":14.0},{"x":1854.1,"y":6.8},{"x":1855.0,"y":8.0},
{"x":1856.3,"y":2.9},{"x":1857.5,"y":5.2},{"x":1858.7,"y":2.3},{"x":1859.9,"y":4.5},{"x":1861.1,"y":2.9},{"x":1862.3,"y":5.4},{"x":1863.5,"y":2.4},{"x":1864.7,"y":4.4},
{"x":1865.7,"y":9.5},{"x":1866.0,"y":29.0},{"x":1866.6,"y":14.0},{"x":1867.0,"y":20.0},{"x":1867.7,"y":8.5},{"x":1868.2,"y":11.0},{"x":1869.1,"y":5.5},{"x":1870.0,"y":6.6},
{"x":1871.3,"y":2.7},{"x":1872.5,"y":5.0},{"x":1873.7,"y":2.2},{"x":1874.9,"y":4.3},{"x":1876.1,"y":2.7},{"x":1876.8,"y":4.5},{"x":1877.1,"y":9.5},{"x":1877.9,"y":6.0},{"x":1878.8,"y":3.0},{"x":1879.9,"y":4.9},{"x":1881.1,"y":2.2},{"x":1882.3,"y":4.2},{"x":1883.5,"y":2.6},{"x":1884.7,"y":5.3},{"x":1885.9,"y":2.9},{"x":1887.1,"y":4.0},{"x":1888.3,"y":1.9},{"x":1889.5,"y":4.7},{"x":1890.7,"y":2.6},{"x":1891.9,"y":4.3},{"x":1893.1,"y":2.4},{"x":1894.2,"y":4.6},
{"x":1894.7,"y":10.0},{"x":1895.0,"y":30.6},{"x":1895.6,"y":15.0},{"x":1896.0,"y":21.5},{"x":1896.7,"y":8.8},{"x":1897.2,"y":11.5},{"x":1898.1,"y":5.8},{"x":1899.0,"y":6.8},
{"x":1900.3,"y":2.7},{"x":1901.5,"y":5.0},{"x":1902.7,"y":2.2},{"x":1903.9,"y":4.4},{"x":1905.1,"y":2.8},{"x":1906.3,"y":5.2},{"x":1907.5,"y":2.3},{"x":1908.7,"y":4.3},{"x":1909.9,"y":3.0},
{"x":1910.7,"y":8.5},{"x":1911.0,"y":25.5},{"x":1911.6,"y":12.5},{"x":1912.0,"y":17.5},{"x":1912.7,"y":7.8},{"x":1913.2,"y":9.8},{"x":1914.1,"y":5.2},{"x":1915.0,"y":6.0},
{"x":1916.3,"y":2.6},{"x":1917.5,"y":4.8},{"x":1918.7,"y":2.1},{"x":1919.9,"y":4.2},{"x":1921.1,"y":2.6},{"x":1922.0,"y":4.0},{"x":1922.3,"y":7.6},{"x":1923.1,"y":5.2},{"x":1924.0,"y":2.8},{"x":1925.1,"y":4.7},{"x":1926.3,"y":2.1},{"x":1927.5,"y":4.1},{"x":1928.7,"y":2.5},{"x":1929.9,"y":5.1},{"x":1931.1,"y":2.8},{"x":1932.3,"y":3.9},{"x":1933.5,"y":1.9},{"x":1934.7,"y":4.6},{"x":1935.9,"y":2.5},{"x":1937.1,"y":4.2},{"x":1938.2,"y":3.0},
{"x":1938.8,"y":8.5},{"x":1939.1,"y":25.1},{"x":1939.7,"y":12.5},{"x":1940.1,"y":17.5},{"x":1940.8,"y":7.8},{"x":1941.3,"y":9.8},{"x":1942.2,"y":5.0},{"x":1943.1,"y":5.9},
{"x":1944.4,"y":2.6},{"x":1945.6,"y":4.8},{"x":1946.8,"y":2.1},{"x":1948.0,"y":4.2},{"x":1949.2,"y":2.7},{"x":1950.4,"y":5.0},{"x":1951.6,"y":2.3},{"x":1952.8,"y":4.1},{"x":1954.1,"y":3.0},
{"x":1954.7,"y":7.0},{"x":1955.0,"y":20.0},{"x":1955.6,"y":10.0},{"x":1956.0,"y":14.0},{"x":1956.7,"y":6.5},{"x":1957.2,"y":8.2},{"x":1958.1,"y":4.5},{"x":1959.0,"y":5.3},
{"x":1960.3,"y":2.5},{"x":1961.5,"y":4.6},{"x":1962.7,"y":2.0},{"x":1963.9,"y":4.1},{"x":1965.1,"y":2.6},{"x":1966.3,"y":6.8},{"x":1967.1,"y":4.7},{"x":1968.0,"y":2.6},{"x":1969.1,"y":4.5},{"x":1970.3,"y":2.0},{"x":1971.5,"y":4.0},{"x":1972.7,"y":2.4},{"x":1973.9,"y":4.9},{"x":1975.1,"y":2.7},{"x":1976.3,"y":3.8},{"x":1977.5,"y":1.9},{"x":1978.7,"y":4.5},{"x":1979.9,"y":2.4},{"x":1981.2,"y":4.0},
{"x":1981.8,"y":7.2},{"x":1982.1,"y":21.0},{"x":1982.7,"y":10.5},{"x":1983.1,"y":14.5},{"x":1983.8,"y":6.7},{"x":1984.3,"y":8.5},{"x":1985.2,"y":4.6},{"x":1986.1,"y":5.4},
{"x":1987.4,"y":2.5},{"x":1988.6,"y":4.6},{"x":1989.8,"y":2.0},{"x":1991.0,"y":4.0},{"x":1992.2,"y":2.6},{"x":1993.4,"y":4.8},{"x":1994.6,"y":2.2},{"x":1995.8,"y":4.0},{"x":1997.0,"y":2.5},{"x":1998.1,"y":3.8},
{"x":1998.8,"y":6.2},{"x":1999.1,"y":16.9},{"x":1999.7,"y":8.8},{"x":2000.1,"y":12.0},{"x":2000.8,"y":5.8},{"x":2001.3,"y":7.2},{"x":2002.2,"y":4.2},{"x":2003.1,"y":4.9},
{"x":2004.4,"y":2.4},{"x":2005.6,"y":4.5},{"x":2006.8,"y":2.0},{"x":2008.0,"y":4.0},{"x":2009.2,"y":2.5},{"x":2010.4,"y":6.2},{"x":2011.2,"y":4.4},{"x":2012.1,"y":2.5},{"x":2013.2,"y":4.4},{"x":2014.4,"y":1.9},{"x":2015.6,"y":3.9},{"x":2016.8,"y":2.3},{"x":2018.0,"y":4.8},{"x":2019.2,"y":2.6},{"x":2020.4,"y":3.7},{"x":2021.6,"y":1.8},{"x":2022.8,"y":4.4},{"x":2024.0,"y":2.3},{"x":2025.2,"y":3.9},{"x":2026.3,"y":2.8},
{"x":2026.8,"y":6.2},{"x":2027.1,"y":17.1},{"x":2027.7,"y":8.8},{"x":2028.1,"y":12.0},{"x":2028.8,"y":5.8},{"x":2029.3,"y":7.2},{"x":2030.2,"y":4.2},{"x":2031.1,"y":4.9},
{"x":2032.4,"y":2.4},{"x":2033.6,"y":4.5},{"x":2034.8,"y":2.0},{"x":2036.0,"y":4.0},{"x":2037.2,"y":2.5},{"x":2038.4,"y":4.7},{"x":2039.6,"y":2.2},{"x":2040.8,"y":3.9},{"x":2042.1,"y":2.9},
{"x":2042.8,"y":5.6},{"x":2043.1,"y":15.0},{"x":2043.7,"y":8.0},{"x":2044.1,"y":10.8},{"x":2044.8,"y":5.2},{"x":2045.3,"y":6.5},{"x":2046.2,"y":3.9},{"x":2047.1,"y":4.6},
{"x":2048.4,"y":2.3},{"x":2049.6,"y":4.4},{"x":2050.8,"y":1.9},{"x":2052.0,"y":3.9},{"x":2053.2,"y":2.4},{"x":2054.4,"y":6.5},{"x":2055.2,"y":4.5},{"x":2056.1,"y":2.5},{"x":2057.2,"y":4.3},{"x":2058.4,"y":1.9},{"x":2059.6,"y":3.8},{"x":2060.8,"y":2.3},{"x":2062.0,"y":4.7},{"x":2063.2,"y":2.5},{"x":2064.4,"y":3.7},{"x":2065.6,"y":1.8},{"x":2066.8,"y":4.3},{"x":2068.0,"y":2.2},{"x":2069.2,"y":3.8},{"x":2070.3,"y":2.7},
{"x":2070.9,"y":5.6},{"x":2071.2,"y":15.0},{"x":2071.8,"y":8.0},{"x":2072.2,"y":10.8},{"x":2072.9,"y":5.2},{"x":2073.4,"y":6.5},{"x":2074.3,"y":3.9},{"x":2075.2,"y":4.6},
{"x":2076.5,"y":2.3},{"x":2077.7,"y":4.4},{"x":2078.9,"y":1.9},{"x":2080.1,"y":3.9},{"x":2081.3,"y":2.4},{"x":2082.5,"y":4.6},{"x":2083.7,"y":2.1},{"x":2084.9,"y":3.8},{"x":2086.1,"y":2.8},
{"x":2086.8,"y":5.0},{"x":2087.1,"y":12.8},{"x":2087.7,"y":7.0},{"x":2088.1,"y":9.5},{"x":2088.8,"y":4.7},{"x":2089.3,"y":5.8},{"x":2090.2,"y":3.6},{"x":2091.1,"y":4.3},
{"x":2092.4,"y":2.2},{"x":2093.6,"y":4.3},{"x":2094.8,"y":1.8},{"x":2096.0,"y":3.8},{"x":2097.2,"y":2.3},{"x":2098.4,"y":6.3},{"x":2099.2,"y":4.3},{"x":2100.1,"y":2.4},{"x":2101.2,"y":4.2},{"x":2102.4,"y":1.8},{"x":2103.6,"y":3.7},{"x":2104.8,"y":2.2},{"x":2106.0,"y":4.6},{"x":2107.2,"y":2.4},{"x":2108.4,"y":3.6},{"x":2109.6,"y":1.7},{"x":2110.8,"y":4.2},{"x":2112.0,"y":2.1},{"x":2113.2,"y":3.7},{"x":2114.4,"y":2.6},
{"x":2114.9,"y":4.8},{"x":2115.2,"y":12.3},{"x":2115.8,"y":6.8},{"x":2116.2,"y":9.2},{"x":2116.9,"y":4.6},{"x":2117.4,"y":5.6},{"x":2118.3,"y":3.5},{"x":2119.2,"y":4.2},
{"x":2120.5,"y":2.2},{"x":2121.7,"y":4.2},{"x":2122.9,"y":1.8},{"x":2124.1,"y":3.7},{"x":2125.3,"y":2.3},{"x":2126.5,"y":4.4},{"x":2127.7,"y":2.0},{"x":2128.9,"y":3.7},{"x":2130.2,"y":2.7},
{"x":2130.9,"y":4.2},{"x":2131.2,"y":9.6},{"x":2131.8,"y":5.8},{"x":2132.2,"y":7.5},{"x":2132.9,"y":4.0},{"x":2133.4,"y":4.8},{"x":2134.3,"y":3.2},{"x":2135.2,"y":3.8},
{"x":2136.5,"y":2.1},{"x":2137.7,"y":4.0},{"x":2138.9,"y":1.8},{"x":2140.1,"y":3.6},{"x":2141.3,"y":2.2}],
"lab":[{"m":809.3,"v":29.7},{"m":853.3,"v":36.9},{"m":882.3,"v":19.8},{"m":969.4,"v":42.5},{"m":985.6,"v":37.8},{"m":1014.4,"v":26.0},{"m":1029.2,"v":48.7},{"m":1057.5,"v":54.1},{"m":1145.5,"v":62.2},{"m":1146.5,"v":43.6},{"m":1161.5,"v":66.6},{"m":1162.7,"v":38.3},{"m":1233.6,"v":77.8},{"m":1234.6,"v":61.3},{"m":1249.6,"v":73.0},{"m":1250.6,"v":50.6},{"m":1277.6,"v":87.0},{"m":1294.6,"v":57.6},{"m":1322.6,"v":68.5},{"m":1337.6,"v":82.2},{"m":1381.7,"v":86.5},{"m":1409.7,"v":100.0},{"m":1410.7,"v":72.0},{"m":1469.7,"v":79.3},{"m":1497.8,"v":86.2},{"m":1498.8,"v":74.4},{"m":1585.9,"v":78.6},{"m":1629.9,"v":67.4},{"m":1645.8,"v":57.3},{"m":1673.9,"v":62.4},{"m":1718.9,"v":53.1},{"m":1762.0,"v":47.2},{"m":1777.9,"v":37.4},{"m":1807.0,"v":42.2},{"m":1895.0,"v":30.6},{"m":1896.0,"v":21.5},{"m":1911.0,"v":25.5},{"m":1982.1,"v":21.0},{"m":2027.1,"v":17.1},{"m":2115.2,"v":12.3}]
},
"layer":[
{"data":{"name":"spec"},"mark":{"type":"line","color":"#7b7bff","strokeWidth":1,"clip":true},
"encoding":{
"x":{"field":"x","type":"quantitative","scale":{"domain":[750,2140],"nice":false,"zero":false},
"axis":{"values":[750,800,850,900,950,1000,1050,1100,1150,1200,1250,1300,1350,1400,1450,1500,1550,1600,1650,1700,1750,1800,1850,1900,1950,2000,2050,2100],"tickCount":500,"format":"d","labelExpr":"datum.value % 200 === 0 ? datum.label : ''","labelFontSize":16,"labelPadding":7,"tickSize":4,"labelOverlap":false,"title":"m/z","titleFontSize":18,"titleFontStyle":"italic","titleFontWeight":"normal","titleX":469,"titleY":55,"titleBaseline":"alphabetic","titleAlign":"center"}},
"y":{"field":"y","type":"quantitative","scale":{"domain":[0,100],"nice":false},
"axis":{"values":[0,2,4,6,8,10,12,14,16,18,20,22,24,26,28,30,32,34,36,38,40,42,44,46,48,50,52,54,56,58,60,62,64,66,68,70,72,74,76,78,80,82,84,86,88,90,92,94,96,98,100],"tickCount":500,"format":"d","labelExpr":"datum.value % 10 === 0 ? datum.label : ''","labelFontSize":16,"labelPadding":4,"tickSize":5,"labelOverlap":false,"labelFlush":true,"labelFlushOffset":-3.5,"offset":52,"title":"Peakintensität [%]","titleFontSize":18,"titleFontWeight":"normal","titlePadding":6}}}},
{"data":{"name":"lab"},"mark":{"type":"rule","color":"#000","strokeWidth":1,"y2Offset":-3.5},
"encoding":{"x":{"field":"m","type":"quantitative"},"y":{"field":"v","type":"quantitative"},"y2":{"field":"v"}}},
{"data":{"name":"lab"},"mark":{"type":"text","align":"center","baseline":"alphabetic","dy":-3.5,"fontSize":13,"color":"#111"},
"encoding":{"x":{"field":"m","type":"quantitative"},"y":{"field":"v","type":"quantitative"},"text":{"field":"m","type":"quantitative","format":".1f"}}}
]
}
